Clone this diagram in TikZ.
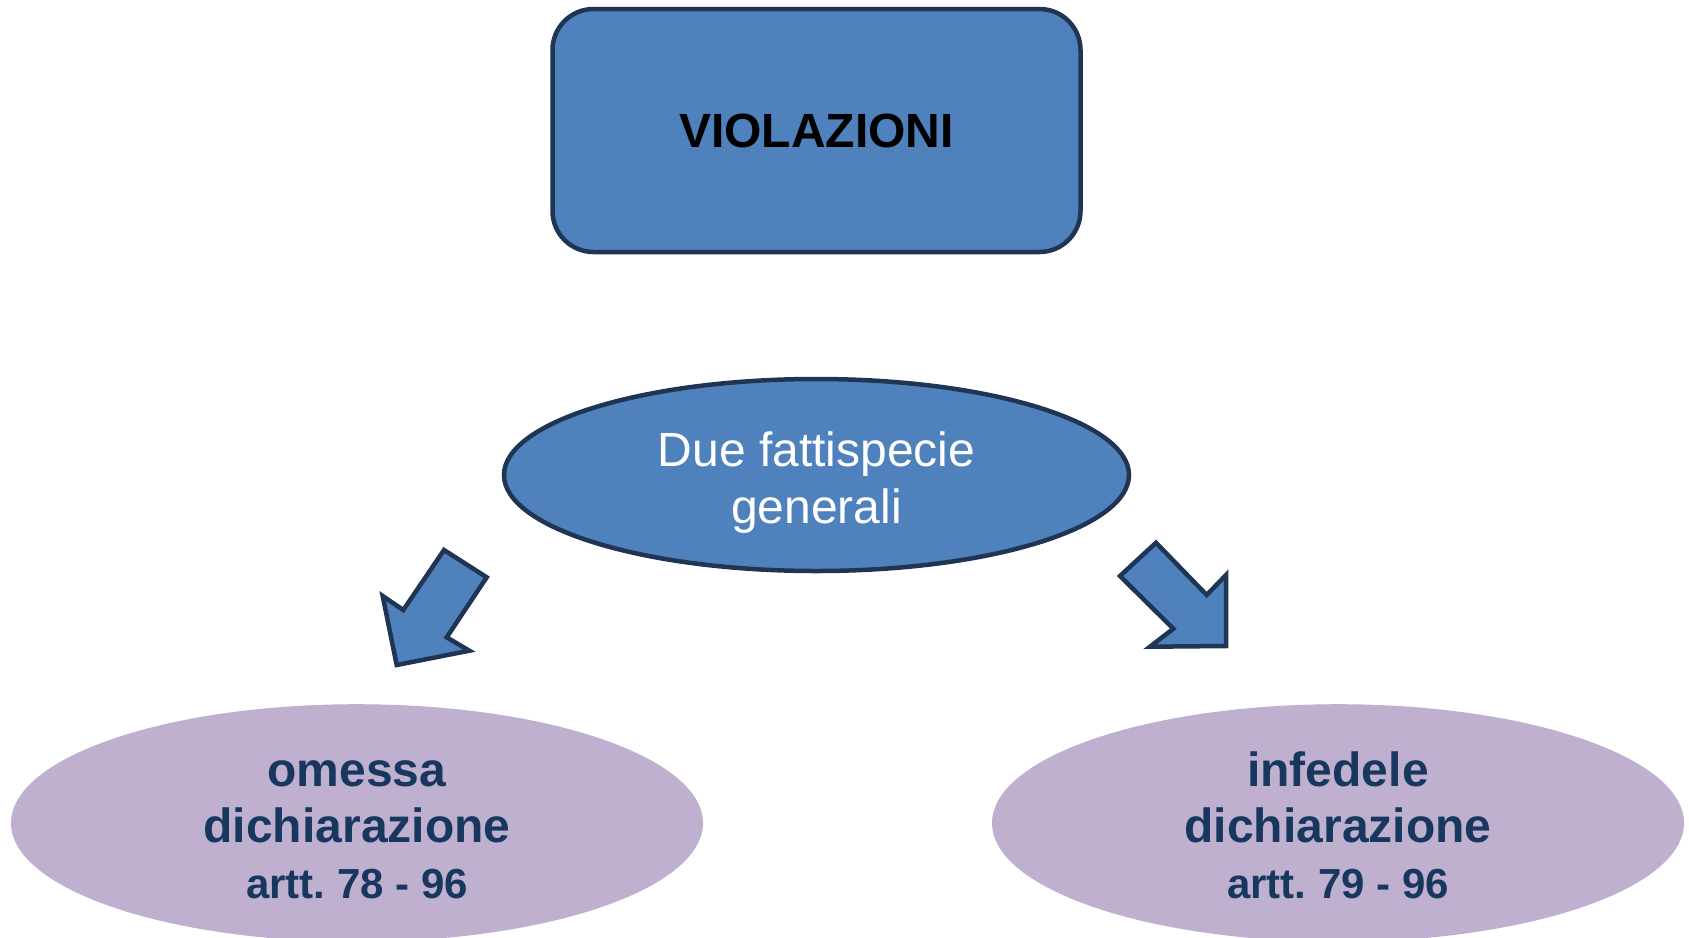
\documentclass[tikz,border=0pt]{standalone}
\usepackage{fontspec}
\setmainfont{Liberation Sans}
\usetikzlibrary{shapes.geometric}
\frenchspacing
\definecolor{boxblue}{HTML}{4F81BD}
\definecolor{edgenavy}{HTML}{1F3553}
\definecolor{lilac}{HTML}{BFB0D0}
\definecolor{textnavy}{HTML}{17375E}
\newcommand{\ovaltext}[2]{\raisebox{#1}[\height][\depth]{\begin{tabular}{@{}c@{}}#2\end{tabular}}}
\tikzset{
  bluebox/.style={draw=edgenavy, fill=boxblue, line width=4.5pt, rounded corners=41pt,
    minimum width=528pt, minimum height=243pt, inner sep=0pt},
  blueoval/.style={ellipse, draw=edgenavy, fill=boxblue, line width=4.5pt,
    minimum width=625pt, minimum height=192pt, inner sep=0pt,
    text=white, font=\fontsize{48}{57}\selectfont},
  lilacoval/.style={ellipse, fill=lilac, minimum width=692pt, minimum height=230pt,
    inner sep=0pt, text=textnavy, font=\fontsize{48}{56}\selectfont\bfseries},
  blockarrow/.style={draw=edgenavy, fill=boxblue, line width=4.5pt, line join=miter}
}
\begin{document}
\begin{tikzpicture}[x=1pt,y=-1pt]
\useasboundingbox (0,0) rectangle (1689,937);
\node[bluebox] (viol) at (816.5,130.5) {\fontsize{48}{56}\selectfont\bfseries VIOLAZIONI};
\node[blueoval] (due) at (816.5,475) {\ovaltext{-8.6pt}{Due fattispecie\\generali}};
\node[lilacoval] (omessa) at (357,823) {\ovaltext{-8.6pt}{omessa\\dichiarazione\\{\fontsize{42}{56}\selectfont artt. 78 - 96}}};
\node[lilacoval] (infedele) at (1338,823) {\ovaltext{-8.6pt}{infedele\\dichiarazione\\{\fontsize{42}{56}\selectfont artt. 79 - 96}}};
% left block arrow
\draw[blockarrow] (444,550) -- (486.7,577.3) -- (446.7,637.3) -- (469.3,650.7)
  -- (396.7,665) -- (382.7,596) -- (403.3,610) -- cycle;
% right block arrow
\draw[blockarrow] (1120,576) -- (1156,542.7) -- (1206.7,595) -- (1226,575)
  -- (1226,646) -- (1150,646.7) -- (1173.3,628.7) -- cycle;
\end{tikzpicture}
\end{document}
